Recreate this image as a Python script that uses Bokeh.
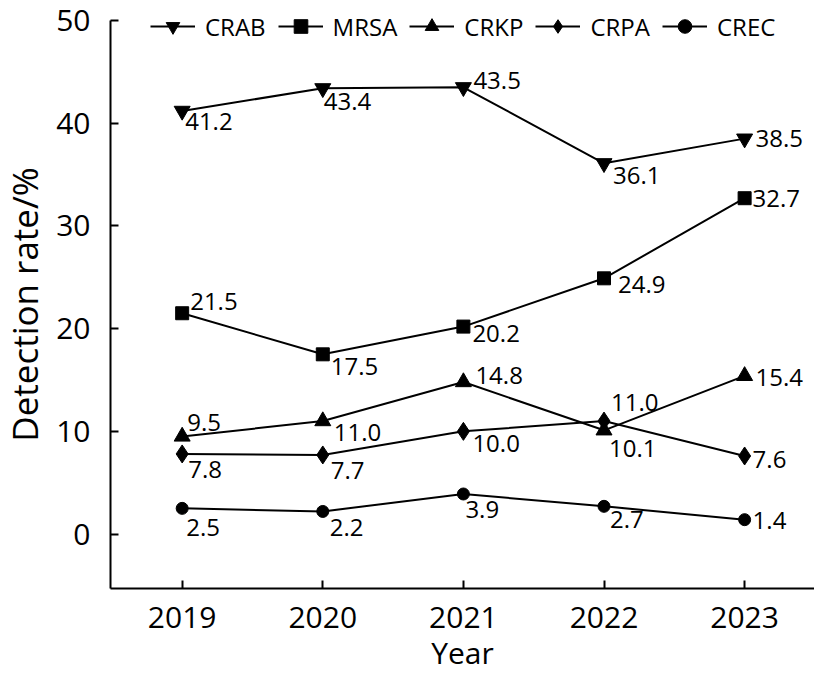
import math
from bokeh.plotting import figure
from bokeh.models import (ColumnDataSource, LabelSet, Legend, LegendItem,
                          FixedTicker, Range1d)
from bokeh.core.properties import value
from bokeh.embed import file_html
from bokeh.resources import INLINE

# ---- data ----
years = [2019, 2020, 2021, 2022, 2023]
crab = [41.2, 43.4, 43.5, 36.1, 38.5]
mrsa = [21.5, 17.5, 20.2, 24.9, 32.7]
crkp = [9.5, 11.0, 14.8, 10.1, 15.4]
crpa = [7.8, 7.7, 10.0, 11.0, 7.6]
crec = [2.5, 2.2, 3.9, 2.7, 1.4]
series_names = ["CRAB", "MRSA", "CRKP", "CRPA", "CREC"]
series_values = [crab, mrsa, crkp, crpa, crec]
y_ticks = [0, 10, 20, 30, 40, 50]
x_title = "Year"
y_title = "Detection rate/%"

# ---- style ----
FONT = "Open Sans"
X_AXIS_SPAN = (2018.49, 2023.497)   # extent of the drawn x axis line
Y_AXIS_SPAN = (-5.3, 50)            # extent of the drawn y axis line
marker_style = {
    "CRAB": ("inverted_triangle", 16),
    "MRSA": ("square", 13),
    "CRKP": ("triangle", 16),
    "CRPA": ("diamond", 18),
    "CREC": ("circle", 12),
}
# value-label offsets in pixels: (right, down)
label_offsets = {
    "CRAB": [(3, 11), (1, 13), (10, -7), (9, 12), (11, 0)],
    "MRSA": [(8, -12), (8, 12), (9, 7), (14, 6), (8, 0)],
    "CRKP": [(5, -14), (11, 11), (12, -7), (5, 18), (11, 2)],
    "CRPA": [(6, 16), (8, 16), (9, 12), (7, -19), (8, 4)],
    "CREC": [(4, 19), (7, 16), (2, 16), (6, 13), (8, 1)],
}

# frame covers the whole canvas; axes are drawn at fixed data locations
p = figure(width=814, height=676, output_backend="svg", toolbar_location=None,
           x_range=Range1d(2017.708, 2023.497), y_range=Range1d(-13.87, 51.95),
           min_border_left=0, min_border_right=0, min_border_top=0,
           min_border_bottom=0)
p.title.visible = False
p.xgrid.visible = False
p.ygrid.visible = False
p.outline_line_color = None
p.background_fill_color = "white"

items = []
lx, ly, lt, lxo, lyo = [], [], [], [], []
for name, vals in zip(series_names, series_values):
    mk, sz = marker_style[name]
    lr = p.line(years, vals, line_width=2, line_color="black")
    sr = p.scatter(years, vals, marker=mk, size=sz, fill_color="black",
                   line_color="black", line_width=1)
    items.append(LegendItem(label=name, renderers=[lr, sr]))
    for yr, v, (dx, dy) in zip(years, vals, label_offsets[name]):
        lx.append(yr)
        ly.append(v)
        lt.append(f"{v:.1f}")
        lxo.append(dx)
        lyo.append(-dy)

src = ColumnDataSource(dict(x=lx, y=ly, text=lt, xo=lxo, yo=lyo))
labels = LabelSet(x="x", y="y", text="text", x_offset="xo", y_offset="yo",
                  source=src, text_font=value(FONT), text_font_size="24px",
                  text_align="left", text_baseline="middle", text_color="black")
p.add_layout(labels)

legend = Legend(items=items, orientation="horizontal", location=(150, 633),
                glyph_width=45, glyph_height=34, label_height=34,
                label_standoff=10, spacing=12, padding=0, margin=0,
                border_line_alpha=0, background_fill_alpha=0,
                label_text_font=FONT, label_text_font_size="24px",
                label_text_color="black")
p.add_layout(legend)

xax = p.xaxis[0]
yax = p.yaxis[0]
xax.fixed_location = Y_AXIS_SPAN[0]
yax.fixed_location = X_AXIS_SPAN[0]
xax.bounds = X_AXIS_SPAN
yax.bounds = Y_AXIS_SPAN
xax.ticker = FixedTicker(ticks=years)
yax.ticker = FixedTicker(ticks=y_ticks)
for ax in (xax, yax):
    ax.axis_line_width = 2
    ax.axis_line_color = "black"
    ax.major_tick_line_width = 2
    ax.major_tick_line_color = "black"
    ax.major_tick_in = 8
    ax.major_tick_out = 0
    ax.minor_tick_in = 0
    ax.minor_tick_out = 0
    ax.major_label_text_font = FONT
    ax.major_label_text_font_size = "30px"
    ax.major_label_text_color = "black"
    ax.axis_label_text_font = FONT
    ax.axis_label_text_font_style = "normal"
    ax.axis_label_text_color = "black"
xax.major_label_standoff = 19
yax.major_label_standoff = 20
xax.axis_label = x_title
xax.axis_label_text_font_size = "30px"
xax.axis_label_standoff = 0
yax.axis_label = y_title
yax.axis_label_text_font_size = "35px"
yax.axis_label_standoff = 5

with open("out.html", "w") as f:
    f.write(file_html(p, INLINE))
